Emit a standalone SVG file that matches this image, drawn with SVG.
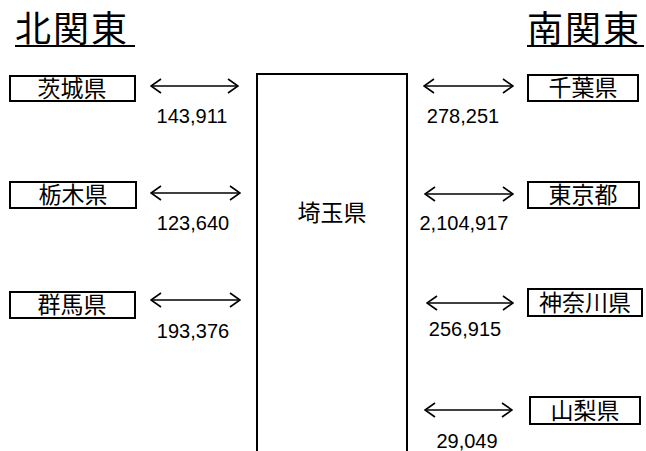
<svg xmlns="http://www.w3.org/2000/svg" width="646" height="451" viewBox="0 0 646 451">
<defs>
<style>
.title{font-family:"Noto Sans CJK JP","Noto Sans CJK SC",sans-serif;font-size:36px;letter-spacing:2px;fill:#000}
.lbl{font-family:"Noto Sans CJK JP","Noto Sans CJK SC",sans-serif;font-size:23px;fill:#000;text-anchor:middle}
.num{font-family:"Liberation Sans",Arial,sans-serif;font-size:20px;fill:#000;text-anchor:middle}
.box{fill:#fff;stroke:#000;stroke-width:2}
.ul{stroke:#000;stroke-width:2}
.arr{fill:none;stroke:#000;stroke-width:1.6}
</style>
<marker id="ah" viewBox="0 0 12 16" refX="11" refY="8" markerWidth="12" markerHeight="16" markerUnits="userSpaceOnUse" orient="auto-start-reverse">
<path d="M1,1 L11,8 L1,15" fill="none" stroke="#000" stroke-width="1.6"/>
</marker>
</defs>
<rect width="646" height="451" fill="#fff"/>
<g id="title-north">
<text class="title" x="15" y="42">北関東</text>
<line class="ul" x1="15" y1="46" x2="135" y2="46"/>
</g>
<g id="title-south">
<text class="title" x="527" y="42">南関東</text>
<line class="ul" x1="527" y1="46" x2="644" y2="46"/>
</g>
<g id="saitama">
<path class="box" d="M257,452 L257,74 L407,74 L407,452"/>
<text class="lbl" x="332" y="221">埼玉県</text>
</g>
<g id="ibaraki">
<rect class="box" x="10" y="76" width="125" height="25"/>
<text class="lbl" x="72" y="97">茨城県</text>
</g>
<g id="tochigi">
<rect class="box" x="10" y="182" width="126" height="26"/>
<text class="lbl" x="73" y="203">栃木県</text>
</g>
<g id="gunma">
<rect class="box" x="10" y="292" width="125" height="26"/>
<text class="lbl" x="72" y="313">群馬県</text>
</g>
<g id="chiba">
<rect class="box" x="528" y="75" width="110" height="26"/>
<text class="lbl" x="583" y="96">千葉県</text>
</g>
<g id="tokyo">
<rect class="box" x="528" y="182" width="111" height="26"/>
<text class="lbl" x="583" y="203">東京都</text>
</g>
<g id="kanagawa">
<rect class="box" x="528" y="289" width="114" height="27"/>
<text class="lbl" x="585" y="311">神奈川県</text>
</g>
<g id="yamanashi">
<rect class="box" x="530" y="397" width="110" height="27"/>
<text class="lbl" x="585" y="419">山梨県</text>
</g>
<g id="connectors">
<line class="arr" x1="151" y1="86" x2="238" y2="86" marker-start="url(#ah)" marker-end="url(#ah)"/>
<line class="arr" x1="151" y1="193" x2="240" y2="193" marker-start="url(#ah)" marker-end="url(#ah)"/>
<line class="arr" x1="151" y1="300" x2="240" y2="300" marker-start="url(#ah)" marker-end="url(#ah)"/>
<line class="arr" x1="424" y1="86" x2="513" y2="86" marker-start="url(#ah)" marker-end="url(#ah)"/>
<line class="arr" x1="425" y1="194" x2="513" y2="194" marker-start="url(#ah)" marker-end="url(#ah)"/>
<line class="arr" x1="427" y1="303" x2="513" y2="303" marker-start="url(#ah)" marker-end="url(#ah)"/>
<line class="arr" x1="425" y1="410" x2="512" y2="410" marker-start="url(#ah)" marker-end="url(#ah)"/>
<text class="num" x="192" y="123">143,911</text>
<text class="num" x="193" y="230">123,640</text>
<text class="num" x="193" y="338">193,376</text>
<text class="num" x="463" y="123">278,251</text>
<text class="num" x="464" y="230">2,104,917</text>
<text class="num" x="465" y="336">256,915</text>
<text class="num" x="467" y="448">29,049</text>
</g>
</svg>
